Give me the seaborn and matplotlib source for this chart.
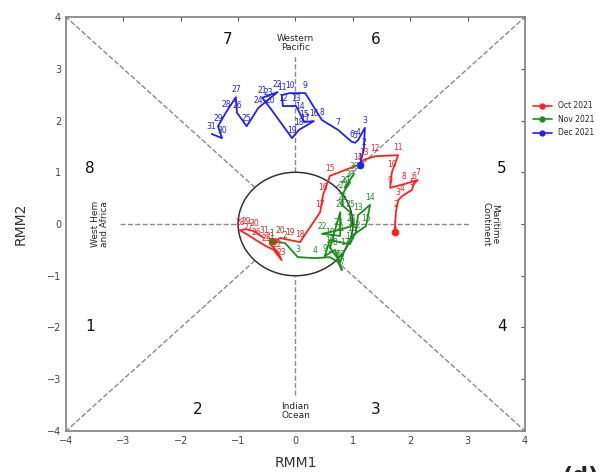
import numpy as np
import pandas as pd
import matplotlib
matplotlib.use("Agg")
import matplotlib.pyplot as plt
import seaborn as sns
from matplotlib.lines import Line2D

# ---- data ----
oct_rmm1 = [1.73, 1.75, 1.79, 1.86, 2.03, 2.06, 2.13, 1.89, 1.65, 1.68, 1.79, 1.39, 1.19, 1.09,
            0.60, 0.48, 0.43, 0.08, -0.10, -0.27, -0.44, -0.31, -0.24, -0.38, -0.51, -0.69,
            -0.83, -0.97, -0.86, -0.72, -0.55]
oct_rmm2 = [-0.16, 0.23, 0.46, 0.54, 0.66, 0.77, 0.85, 0.77, 0.70, 1.00, 1.33, 1.31, 1.24, 1.14,
            0.93, 0.56, 0.23, -0.35, -0.31, -0.27, -0.39, -0.54, -0.70, -0.50, -0.43, -0.31,
            -0.21, -0.12, -0.10, -0.14, -0.27]
nov_rmm1 = [-0.41, -0.18, 0.04, 0.34, 0.60, 0.74, 0.81, 0.69, 0.51, 0.60, 0.95, 1.05, 1.09, 1.30,
            1.23, 0.98, 0.86, 0.78, 0.60, 0.78, 0.78, 0.46, 0.74, 0.98, 0.95, 0.81, 0.83, 0.95,
            0.86, 1.02]
nov_rmm2 = [-0.33, -0.37, -0.64, -0.66, -0.64, -0.73, -0.89, -0.50, -0.62, -0.31, -0.39, -0.16,
            0.17, 0.37, -0.04, -0.23, -0.50, -0.73, -0.46, 0.23, -0.23, -0.19, -0.12, -0.04,
            0.23, 0.37, 0.60, 0.81, 0.70, 0.97]
dec_rmm1 = [1.12, 1.19, 1.21, 1.09, 1.04, 0.98, 0.74, 0.46, 0.17, -0.10, -0.24, -0.22, 0.01,
            0.08, 0.15, 0.32, 0.17, 0.06, -0.06, -0.44, -0.58, -0.31, -0.48, -0.65, -0.85,
            -1.02, -1.04, -1.21, -1.35, -1.28, -1.46]
dec_rmm2 = [1.14, 1.43, 1.86, 1.62, 1.57, 1.59, 1.82, 2.01, 2.53, 2.53, 2.49, 2.28, 2.28, 2.13,
            1.97, 1.99, 1.89, 1.82, 1.66, 2.24, 2.44, 2.55, 2.40, 2.24, 1.89, 2.15, 2.45, 2.16,
            1.89, 1.66, 1.74]
months = ["Oct 2021", "Nov 2021", "Dec 2021"]
colors = ["#ff2020", "#1e8c1e", "#1f1fff"]

phase_nums = ["1", "2", "3", "4", "5", "6", "7", "8"]
phase_x = [-3.58, -1.71, 1.40, 3.60, 3.60, 1.40, -1.18, -3.58]
phase_y = [-1.99, -3.59, -3.59, -1.99, 1.08, 3.56, 3.56, 1.08]

sns.set_style("white")
plt.rcParams["font.family"] = ["DejaVu Sans"]

fig = plt.figure(figsize=(6.01, 4.72), dpi=100)
ax = fig.add_axes([0.1098, 0.0869, 0.7637, 0.877])

# guide lines
gc = "#8a8a8a"
r = np.sqrt(0.5)
for sx, sy in [(1, 1), (1, -1), (-1, 1), (-1, -1)]:
    ax.plot([sx * r, sx * 4], [sy * r, sy * 4], ls="--", color=gc, lw=1.0, zorder=1)
ax.plot([1, 3.05], [0, 0], ls="--", color=gc, lw=1.0, zorder=1)
ax.plot([-3.05, -1], [0, 0], ls="--", color=gc, lw=1.0, zorder=1)
ax.plot([0, 0], [1, 3.25], ls="--", color=gc, lw=1.0, zorder=1)
ax.plot([0, 0], [-3.3, -1], ls="--", color=gc, lw=1.0, zorder=1)
t = np.linspace(0, 2 * np.pi, 300)
ax.plot(np.cos(t), np.sin(t), color="#333333", lw=1.1, zorder=2)

data = [(oct_rmm1, oct_rmm2), (nov_rmm1, nov_rmm2), (dec_rmm1, dec_rmm2)]
handles = []
for (xs, ys), m, c in zip(data, months, colors):
    df = pd.DataFrame({"RMM1": xs, "RMM2": ys, "day": np.arange(1, len(xs) + 1)})
    sns.lineplot(data=df, x="RMM1", y="RMM2", sort=False, estimator=None,
                 color=c, lw=1.3, ax=ax, zorder=3)
    ax.plot(xs[0], ys[0], "o", color=c, ms=4.5, zorder=4)
    for d, xv, yv in zip(df["day"], xs, ys):
        ax.annotate(str(d), (xv, yv), xytext=(0, 2), textcoords="offset points",
                    ha="center", va="bottom", fontsize=5.5, color=c, zorder=5)
    handles.append(Line2D([0], [0], color=c, lw=1.2, marker="o", ms=3.5, label=m))

for s, xv, yv in zip(phase_nums, phase_x, phase_y):
    ax.text(xv, yv, s, fontsize=11, ha="center", va="center", color="#111111")

ax.text(0, 3.5, "Western\nPacific", fontsize=6.5, ha="center", va="center", linespacing=1.0)
ax.text(0, -3.62, "Indian\nOcean", fontsize=6.5, ha="center", va="center", linespacing=1.0)
ax.text(-3.4, 0, "West Hem\nand Africa", fontsize=6.5, ha="center", va="center",
        rotation=90, linespacing=1.0)
ax.text(3.4, 0, "Maritime\nContinent", fontsize=6.5, ha="center", va="center",
        rotation=-90, linespacing=1.0)

ax.set_xlim(-4, 4)
ax.set_ylim(-4, 4)
ax.set_xticks(range(-4, 5))
ax.set_yticks(range(-4, 5))
ax.tick_params(direction="in", length=3, labelsize=7, colors="#555555",
               top=True, right=True, labelcolor="#444444")
for sp in ax.spines.values():
    sp.set_color("#888888")
    sp.set_linewidth(1.3)
ax.set_xlabel("RMM1", fontsize=10, color="#333333", labelpad=7)
ax.set_ylabel("RMM2", fontsize=10, color="#333333", labelpad=14)

fig.legend(handles=handles, loc="upper left", bbox_to_anchor=(0.875, 0.80),
           frameon=False, fontsize=5.5, handlelength=2.5, labelspacing=0.6)

fig.text(0.965, 0.012, "(d)", fontsize=16, fontweight="bold", ha="center", va="top")

fig.savefig("out.png", dpi=100)
